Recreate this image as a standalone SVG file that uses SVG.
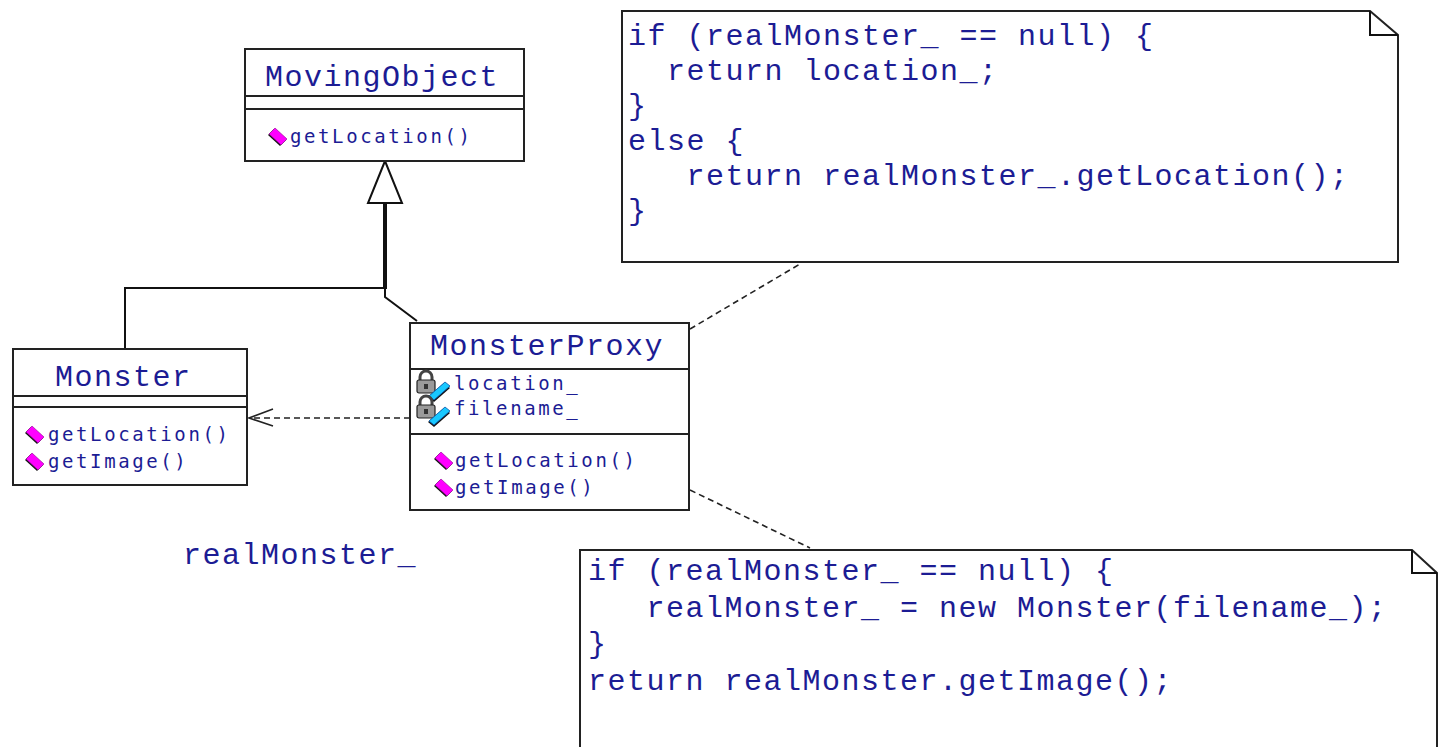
<svg xmlns="http://www.w3.org/2000/svg" xmlns:xlink="http://www.w3.org/1999/xlink" width="1442" height="747" viewBox="0 0 1442 747">
<style>
.box{fill:#fff;stroke:#222;stroke-width:2}
.sep{stroke:#222;stroke-width:2}
.big{font-family:"Liberation Mono","DejaVu Sans Mono",monospace;font-size:30px;letter-spacing:1.5px;fill:#1c1c94;white-space:pre}
.mem{font-family:"DejaVu Sans Mono","Liberation Mono",monospace;font-size:19px;letter-spacing:2.6px;fill:#1c1c94;white-space:pre}
.dash{fill:none;stroke:#222;stroke-width:1.6;stroke-dasharray:6 4}
.ln{fill:none;stroke:#111;stroke-width:2}
</style>
<defs>
<g id="op">
<polygon points="-1,-7 5,-13 17,-2 11,4" fill="#111"/>
<polygon points="0,-8 6,-14 18,-3 12,3" fill="#ff00ff" stroke="#8a0a8a" stroke-width="0.6"/>
</g>
<g id="attr">
<path d="M3,10 V6 a6,6 0 0 1 12,0 V10" fill="none" stroke="#444" stroke-width="3"/>
<rect x="0" y="9" width="18" height="13" rx="2" fill="#9a9a9a" stroke="#222" stroke-width="1.2"/>
<rect x="7" y="13" width="4" height="5" fill="#333"/>
<polygon points="11,26 27,12 33,17 17,31" fill="#111"/>
<polygon points="12,25 28,11 33,15 17,29" fill="#19c8ff" stroke="#0a55aa" stroke-width="0.8"/>
</g>
</defs>

<g id="connectors">
<polyline class="ln" points="125,349 125,288 385,288"/>
<polyline class="ln" points="385,288 385,297 417,321"/>
<rect x="383" y="203" width="4" height="86" fill="#111"/>
<polygon points="385,161 368,203 402,203" fill="#fff" stroke="#111" stroke-width="2"/>
<line class="dash" x1="410" y1="418" x2="250" y2="418"/>
<polyline fill="none" stroke="#222" stroke-width="1.6" points="273,409 249,418 273,426"/>
<line class="dash" x1="690" y1="329" x2="800" y2="264"/>
<line class="dash" x1="690" y1="490" x2="810" y2="548"/>
</g>

<g id="MovingObject">
<rect class="box" x="245" y="49" width="279" height="112"/>
<line class="sep" x1="245" y1="96" x2="524" y2="96"/>
<line class="sep" x1="245" y1="109" x2="524" y2="109"/>
<text class="big" x="265" y="86">MovingObject</text>
<use xlink:href="#op" x="269" y="142"/>
<text class="mem" x="290" y="143">getLocation()</text>
</g>

<g id="Monster">
<rect class="box" x="13" y="349" width="234" height="136"/>
<line class="sep" x1="13" y1="396" x2="247" y2="396"/>
<line class="sep" x1="13" y1="407" x2="247" y2="407"/>
<text class="big" x="55" y="386">Monster</text>
<use xlink:href="#op" x="26" y="440"/>
<text class="mem" x="48" y="441">getLocation()</text>
<use xlink:href="#op" x="26" y="467"/>
<text class="mem" x="48" y="468">getImage()</text>
</g>

<g id="MonsterProxy">
<rect class="box" x="410" y="323" width="279" height="187"/>
<line class="sep" x1="410" y1="369" x2="689" y2="369"/>
<line class="sep" x1="410" y1="434" x2="689" y2="434"/>
<text class="big" x="430" y="355">MonsterProxy</text>
<use xlink:href="#attr" x="417" y="371"/>
<text class="mem" x="454" y="390">location_</text>
<use xlink:href="#attr" x="417" y="396"/>
<text class="mem" x="454" y="415">filename_</text>
<use xlink:href="#op" x="435" y="466"/>
<text class="mem" x="455" y="467">getLocation()</text>
<use xlink:href="#op" x="435" y="493"/>
<text class="mem" x="455" y="494">getImage()</text>
</g>

<g id="label-realMonster">
<text class="big" x="183" y="564">realMonster_</text>
</g>

<g id="note-getLocation">
<path class="box" d="M622,11 H1370 L1398,35 V262 H622 Z"/>
<path class="ln" d="M1370,11 V35 H1398"/>
<text class="big" x="628" y="45">if (realMonster_ == null) {</text>
<text class="big" x="628" y="80">  return location_;</text>
<text class="big" x="628" y="115">}</text>
<text class="big" x="628" y="150">else {</text>
<text class="big" x="628" y="185">   return realMonster_.getLocation();</text>
<text class="big" x="628" y="220">}</text>
</g>

<g id="note-getImage">
<path class="box" d="M580,550 H1412 L1437,573 V760 H580 Z"/>
<path class="ln" d="M1412,550 V573 H1437"/>
<text class="big" x="588" y="580">if (realMonster_ == null) {</text>
<text class="big" x="588" y="617">   realMonster_ = new Monster(filename_);</text>
<text class="big" x="588" y="653">}</text>
<text class="big" x="588" y="690">return realMonster.getImage();</text>
</g>
</svg>
